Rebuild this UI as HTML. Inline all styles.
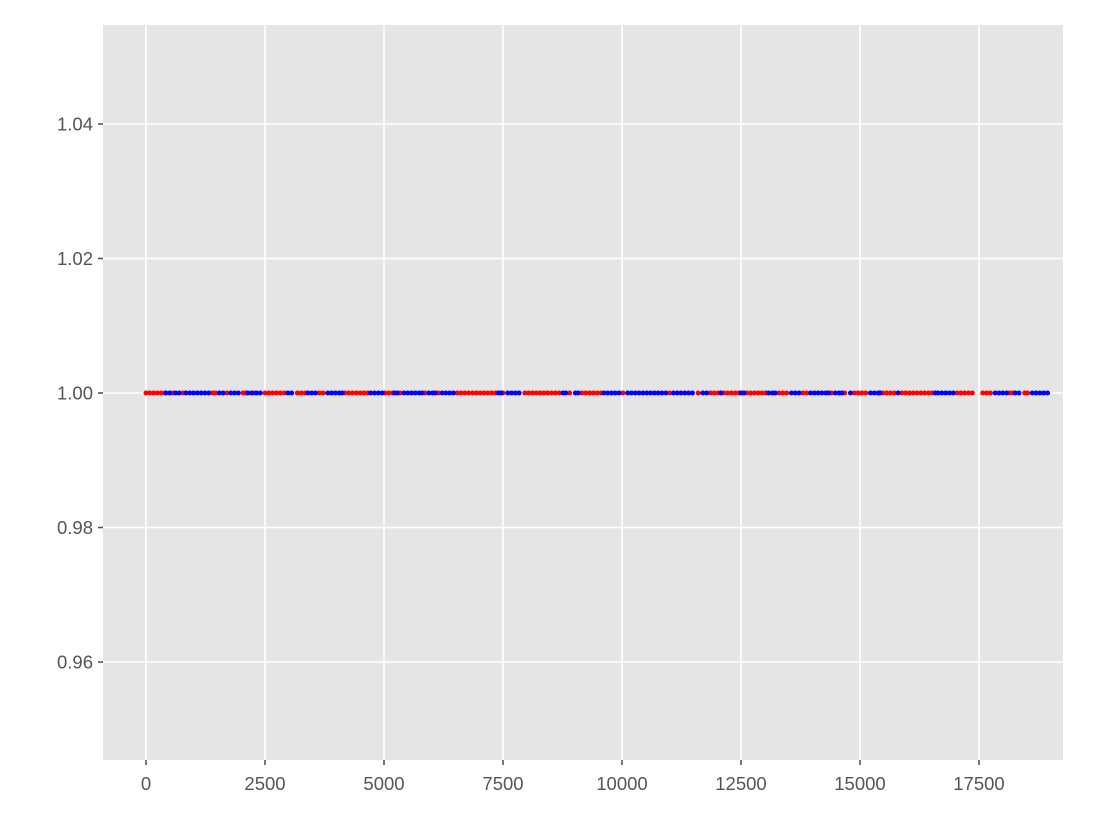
<!DOCTYPE html>
<html><head><meta charset="utf-8"><style>
html,body{margin:0;padding:0;background:#fff;}
svg{display:block;font-family:"Liberation Sans","DejaVu Sans",sans-serif;}
</style></head><body>
<svg id="chart" width="1116" height="830" viewBox="0 0 1116 830"></svg>
<script>
const xTicks=[0,2500,5000,7500,10000,12500,15000,17500];
const yTicks=[0.96,0.98,1.00,1.02,1.04];
const yTickLabels=["0.96","0.98","1.00","1.02","1.04"];
const redX=[0,80,160,240,320,400,560,780,1400,1460,1700,2040,2100,2270,2500,2580,2660,2740,2820,2900,3180,3260,3340,3640,3720,4180,4260,4340,4420,4500,4580,4660,5020,5100,5180,5340,5860,6140,6540,6620,6700,6780,6860,6940,7020,7100,7180,7260,7340,7500,7960,8040,8120,8200,8280,8360,8440,8520,8600,8680,8900,9160,9240,9320,9400,9480,9560,10020,11000,11600,11860,11940,12020,12140,12220,12300,12380,12460,12620,12700,12780,12860,12940,13020,13300,13380,13460,13800,13880,14400,14680,14880,14960,15040,15120,15480,15560,15640,15720,15880,15960,16040,16120,16200,16280,16360,16440,16520,17040,17120,17200,17280,17360,17580,17660,17740,18140,18200,18460,18520];
const blueX=[420,500,620,700,840,920,1000,1080,1160,1240,1320,1540,1620,1780,1860,1940,2140,2220,2320,2400,2980,3060,3400,3480,3560,3820,3900,3980,4060,4120,4720,4800,4880,4960,5220,5280,5420,5500,5580,5660,5740,5800,5940,6020,6080,6220,6300,6380,6460,7400,7460,7600,7680,7760,7840,8760,8820,9020,9080,9620,9700,9780,9860,9940,10120,10200,10280,10360,10440,10520,10600,10680,10760,10840,10920,11080,11160,11240,11320,11400,11480,11700,11780,12080,12500,12560,13080,13160,13220,13560,13640,13720,13960,14040,14120,14200,14280,14340,14480,14560,14620,14800,15220,15300,15380,15420,15800,16580,16640,16720,16800,16880,16960,17840,17920,18000,18080,18260,18340,18620,18700,18780,18860,18940];
const yValue=1.0;

const NS="http://www.w3.org/2000/svg";
const svg=document.getElementById('chart');
const L=103,R=1063,T=25,B=760;
function sx(v){return 146+v*(119/2500);}
function sy(v){return 393-(v-1.0)*(134.5/0.02);}
function mk(tag,attrs,parent){const e=document.createElementNS(NS,tag);for(const k in attrs)e.setAttribute(k,attrs[k]);(parent||svg).appendChild(e);return e;}

const bg=mk('rect',{x:L,y:T,width:R-L,height:B-T,fill:'#e5e5e5'});



const grid=mk('g',{});


const xAxis=mk('g',{});


const yAxis=mk('g',{});



xTicks.forEach(v=>{
  const x=sx(v);
  mk('line',{x1:x,x2:x,y1:T,y2:B,stroke:'#fff','stroke-width':1.6},grid);
  mk('line',{x1:x,x2:x,y1:B,y2:B+5,stroke:'#555','stroke-width':1.6},xAxis);
  const t=mk('text',{x:x,y:B+30,'text-anchor':'middle','font-size':'18.5',fill:'#555'},xAxis);
  t.textContent=String(v);
  
  
});
yTicks.forEach((v,i)=>{
  const y=sy(v);
  mk('line',{x1:L,x2:R,y1:y,y2:y,stroke:'#fff','stroke-width':1.6},grid);
  mk('line',{x1:L-5,x2:L,y1:y,y2:y,stroke:'#555','stroke-width':1.6},yAxis);
  const t=mk('text',{x:L-10,y:y+6.5,'text-anchor':'end','font-size':'18.5',fill:'#555'},yAxis);
  t.textContent=yTickLabels[i];
  
  
});

const redG=mk('g',{fill:'#ff0000'});


redX.forEach(v=>{
  const c=mk('circle',{cx:sx(v),cy:sy(yValue),r:2.5},redG);
  
  
});
const blueG=mk('g',{fill:'#0000ff'});


blueX.forEach(v=>{
  const c=mk('circle',{cx:sx(v),cy:sy(yValue),r:2.5},blueG);
  
  
});
</script>
</body></html>
